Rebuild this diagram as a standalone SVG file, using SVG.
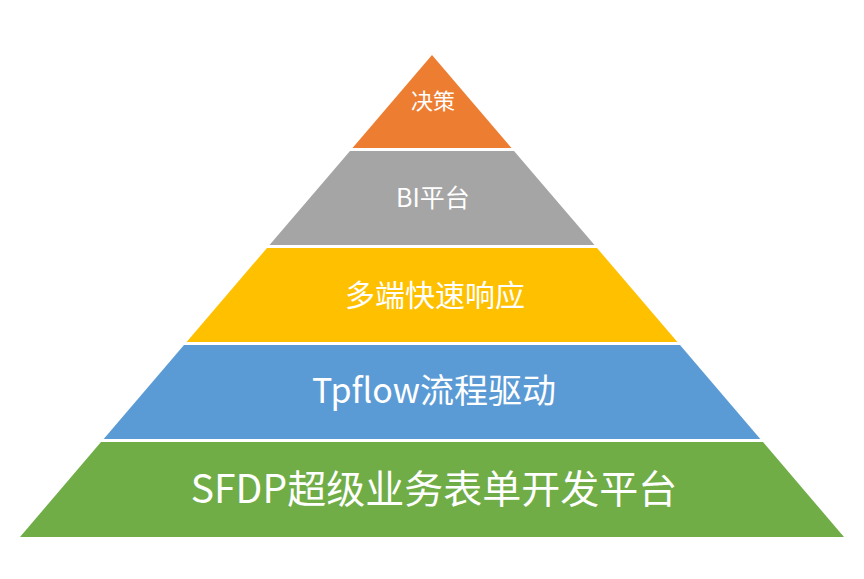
<svg xmlns="http://www.w3.org/2000/svg" width="864" height="579" viewBox="0 0 864 579">
<style>
text{fill:#fff;font-family:"Noto Sans CJK SC","Noto Sans",sans-serif;text-anchor:middle;dominant-baseline:central}
</style>
<rect width="864" height="579" fill="#fff"/>
<g id="l1"><polygon points="432,55 511.5,148 352.5,148" fill="#ED7D31"/><text x="433" y="99" font-size="22">决策</text></g>
<g id="l2"><polygon points="350,151 514,151 594.5,245 269.5,245" fill="#A5A5A5"/><text x="433" y="196" font-size="25">BI平台</text></g>
<g id="l3"><polygon points="267,248 597,248 677.4,342 186.6,342" fill="#FFC000"/><text x="435" y="293" font-size="30">多端快速响应</text></g>
<g id="l4"><polygon points="184,345 680,345 760.3,439 103.7,439" fill="#5B9BD5"/><text x="434" y="388" font-size="34">Tpflow流程驱动</text></g>
<g id="l5"><polygon points="101,442 763,442 844,537 20,537" fill="#70AD47"/><text x="434" y="486" font-size="39">SFDP超级业务表单开发平台</text></g>
<g id="connectors"/>
</svg>
